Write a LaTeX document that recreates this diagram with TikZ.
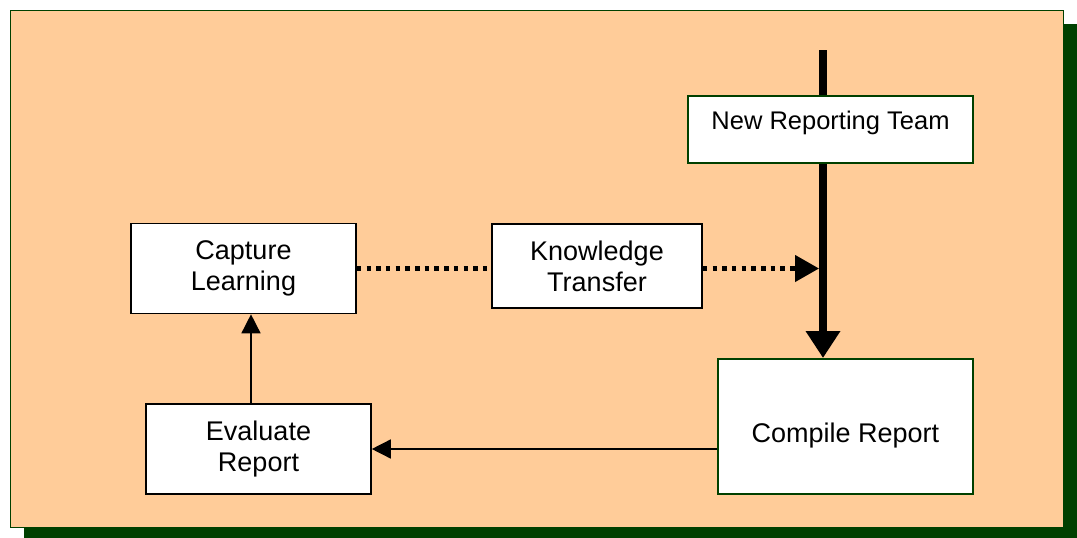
\documentclass[tikz,border=0pt]{standalone}
\usepackage{fontspec}
\setmainfont{Liberation Sans}
\usetikzlibrary{arrows.meta}
\pgfdeclarelayer{bg}
\pgfsetlayers{bg,main}
\definecolor{peach}{RGB}{255,204,153}
\definecolor{dkgreen}{RGB}{0,64,0}
\tikzset{
  box/.style={draw=black, line width=1.6pt, fill=white, rectangle, inner sep=0pt, align=center,
    font=\fontsize{27}{31}\selectfont},
  gbox/.style={box, draw=dkgreen, line width=2pt},
  thin arrow/.style={line width=1.5pt, -{Triangle[length=19pt,width=19pt]}},
  dotline/.style={line width=4.5pt, dash pattern=on 4.5pt off 5.2pt},
}
\begin{document}
\begin{tikzpicture}[x=1pt,y=-1pt]
\useasboundingbox (0,0) rectangle (1077,538);
\node[gbox, minimum width=285pt, minimum height=67pt, text height=18pt, text depth=18pt, font=\fontsize{25.5}{31}\selectfont] (nrt) at (830.5,129.5) {New Reporting Team};
\node[box, minimum width=225pt, minimum height=90pt] (cap) at (243.5,268.5) {Capture\\Learning};
\node[box, minimum width=210pt, minimum height=84pt] (kt) at (597,266) {Knowledge\\Transfer};
\node[gbox, minimum width=255pt, minimum height=135pt, text height=31pt, text depth=0pt] (comp) at (845.5,426.5) {Compile Report};
\node[box, minimum width=225pt, minimum height=90pt] (eval) at (258.5,449) {Evaluate\\Report};
\coordinate (top) at (823,50);
\begin{pgfonlayer}{bg}
  \fill[dkgreen] (24,24) rectangle (1077,538);
  \draw[fill=peach, draw=dkgreen, line width=1.2pt] (10.6,10.6) rectangle (1063.4,527.4);
  \draw[line width=8pt, -{Triangle[length=27pt,width=33pt]}] (top) -- (top |- comp.north);
\end{pgfonlayer}
\draw[dotline] (cap.east) -- (cap.east -| kt.west);
\draw[dotline, -{Triangle[length=24pt,width=26pt]}] (kt.east |- cap.east) -- ([xshift=-4pt]top |- cap.east);
\draw[thin arrow] (comp.west |- 0,449) -- (eval.east |- 0,449);
\draw[thin arrow] ([xshift=-7.5pt]eval.north) -- ([xshift=7.5pt]cap.south);
\end{tikzpicture}
\end{document}
